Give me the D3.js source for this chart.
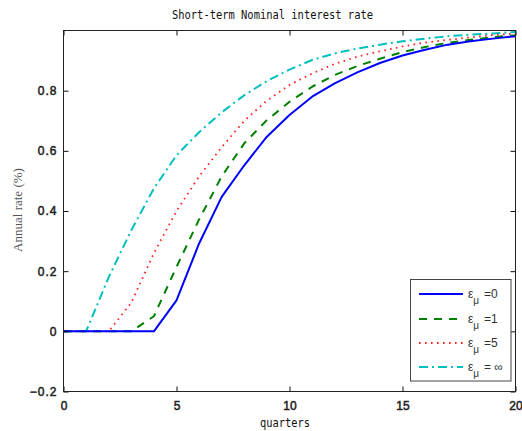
<!DOCTYPE html>
<html>
<head>
<meta charset="utf-8">
<script src="https://cdn.jsdelivr.net/npm/d3@7"></script>
<style>
  body { margin: 0; background: #fff; }
  svg { display: block; }
</style>
</head>
<body>
<div id="chart"></div>
<script>
// quarters 0..20
var quarters = [0, 1, 2, 3, 4, 5, 6, 7, 8, 9, 10, 11, 12, 13, 14, 15, 16, 17, 18, 19, 20];

// annual rate (%) for each epsilon_mu
var rate_eps0 = [0, 0, 0, 0, 0, 0.103, 0.292, 0.447, 0.552, 0.647, 0.719, 0.780, 0.824, 0.861, 0.892, 0.917, 0.936, 0.953, 0.964, 0.973, 0.981];
var rate_eps1 = [0, 0, 0, 0, 0.050, 0.214, 0.372, 0.515, 0.625, 0.702, 0.763, 0.813, 0.852, 0.882, 0.906, 0.928, 0.945, 0.959, 0.969, 0.978, 0.984];
var rate_eps5 = [0, 0, 0, 0.095, 0.260, 0.400, 0.515, 0.612, 0.700, 0.767, 0.819, 0.857, 0.889, 0.913, 0.931, 0.947, 0.960, 0.969, 0.977, 0.985, 0.990];
var rate_epsInf = [0, 0, 0.180, 0.336, 0.475, 0.585, 0.662, 0.728, 0.785, 0.832, 0.870, 0.902, 0.924, 0.940, 0.953, 0.964, 0.973, 0.981, 0.986, 0.990, 0.995];

var legend_labels = ["=0", "=1", "=5", "=  \u221e"];
var x_ticks = [0, 5, 10, 15, 20];
var y_ticks = [-0.2, 0, 0.2, 0.4, 0.6, 0.8];

var width = 522, height = 431;
var plot = { left: 63.5, right: 515.5, top: 30.5, bottom: 391.5 };

var svg = d3.select("#chart").append("svg")
    .attr("width", width)
    .attr("height", height);

var x = d3.scaleLinear().domain([0, 20]).range([plot.left, plot.right]);
var y = d3.scaleLinear().domain([-0.2, 1.0]).range([plot.bottom, plot.top]);

// series styles
var series = [
    { values: rate_eps0,   color: "#0000ff", dash: null,        width: 2 },
    { values: rate_eps1,   color: "#008000", dash: "8,7",       width: 2 },
    { values: rate_eps5,   color: "#ff2020", dash: "1.6,4.4",   width: 1.8 },
    { values: rate_epsInf, color: "#00bfbf", dash: "9,4,2,4",   width: 2 }
];

var line = d3.line()
    .x(function(d) { return x(d[0]); })
    .y(function(d) { return y(d[1]); });

var plot_group = svg.append("g");

// lines, drawn last series first so blue sits on top on the zero line
for (var i = series.length - 1; i >= 0; --i) {
    var s = series[i];
    plot_group.append("path")
        .datum(quarters.map(function(q, k) { return [q, s.values[k]]; }))
        .attr("d", line)
        .attr("fill", "none")
        .attr("stroke", s.color)
        .attr("stroke-width", s.width)
        .attr("stroke-dasharray", s.dash)
        .attr("stroke-linejoin", "round");
}

// axes, ticks pointing inward
var tick_font = "'Liberation Sans', Arial, sans-serif";

svg.append("g")
    .attr("transform", "translate(0," + plot.bottom + ")")
    .call(d3.axisBottom(x).tickValues(x_ticks).tickSizeInner(-5).tickSizeOuter(0).tickPadding(10)
        .tickFormat(d3.format("d")));

svg.append("g")
    .attr("transform", "translate(0," + plot.top + ")")
    .call(d3.axisTop(x).tickValues(x_ticks).tickSizeInner(-5).tickSizeOuter(0).tickFormat(""));

var y_axis = svg.append("g")
    .attr("transform", "translate(" + plot.left + ",0)")
    .call(d3.axisLeft(y).tickValues(y_ticks).tickSizeInner(-5).tickSizeOuter(0).tickPadding(6)
        .tickFormat(function(d) { return d === 0 ? "0" : d3.format(".1f")(d); }));

svg.append("g")
    .attr("transform", "translate(" + plot.right + ",0)")
    .call(d3.axisRight(y).tickValues(y_ticks).tickSizeInner(-5).tickSizeOuter(0).tickFormat(""));

svg.selectAll(".domain").remove();
svg.selectAll(".tick line").attr("stroke", "#111");
svg.selectAll(".tick text")
    .attr("font-family", tick_font)
    .attr("font-size", 12)
    .attr("fill", "#222")
    .attr("stroke", "#222")
    .attr("stroke-width", 0.5);
y_axis.selectAll(".tick text").attr("letter-spacing", 1);

// box
svg.append("rect")
    .attr("x", plot.left)
    .attr("y", plot.top)
    .attr("width", plot.right - plot.left)
    .attr("height", plot.bottom - plot.top)
    .attr("fill", "none")
    .attr("stroke", "#222")
    .attr("stroke-width", 1);

// title and axis labels
var mono = "'DejaVu Sans Mono', 'Liberation Mono', monospace";

svg.append("text")
    .attr("x", 172)
    .attr("y", 19)
    .attr("font-family", mono)
    .attr("font-size", 12.5)
    .attr("fill", "#111")
    .attr("textLength", 201)
    .attr("lengthAdjust", "spacingAndGlyphs")
    .text("Short-term Nominal interest rate");

svg.append("text")
    .attr("x", 260)
    .attr("y", 427)
    .attr("font-family", mono)
    .attr("font-size", 12.5)
    .attr("fill", "#111")
    .attr("textLength", 50)
    .attr("lengthAdjust", "spacingAndGlyphs")
    .text("quarters");

svg.append("text")
    .attr("transform", "translate(22,210) rotate(-90)")
    .attr("text-anchor", "middle")
    .attr("font-family", "'Liberation Serif', 'DejaVu Serif', serif")
    .attr("font-size", 13)
    .attr("fill", "#555")
    .text("Annual rate (%)");

// legend
var legend = svg.append("g");
legend.append("rect")
    .attr("x", 410.5)
    .attr("y", 279.5)
    .attr("width", 100.5)
    .attr("height", 101.5)
    .attr("fill", "#fff")
    .attr("stroke", "#444")
    .attr("stroke-width", 1);

var legend_y = [294, 319, 343, 367];
for (var j = 0; j < series.length; ++j) {
    var ly = legend_y[j];
    legend.append("line")
        .attr("x1", 419).attr("x2", 463)
        .attr("y1", ly).attr("y2", ly)
        .attr("stroke", series[j].color)
        .attr("stroke-width", series[j].width)
        .attr("stroke-dasharray", series[j].dash);

    var t = legend.append("text")
        .attr("x", 468)
        .attr("y", ly + 4)
        .attr("font-family", tick_font)
        .attr("font-size", 12)
        .attr("fill", "#333");
    t.append("tspan").text("\u03b5");
    t.append("tspan").attr("dy", 6).attr("font-size", 10).text("\u03bc");
    t.append("tspan").attr("x", 484).attr("dy", -6).text(legend_labels[j]);
}
</script>
</body>
</html>
